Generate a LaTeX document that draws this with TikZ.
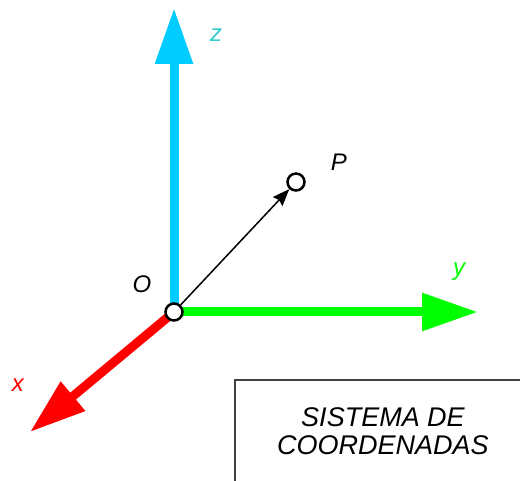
\documentclass[tikz,border=0pt]{standalone}
\usepackage{fontspec}
\setmainfont{Liberation Sans}
\usepackage{xcolor}
\usepackage{tikz}
\usetikzlibrary{arrows.meta, positioning, calc}

\definecolor{axisz}{RGB}{0,204,255}
\definecolor{labelz}{RGB}{51,204,204}
\definecolor{axisy}{RGB}{0,255,0}
\definecolor{axisx}{RGB}{255,0,0}

\begin{document}
\begin{tikzpicture}[
        x=1pt, y=-1pt,
        every node/.style={align=center},
        axis/.style={-{Triangle[length=56pt,width=36pt]}, line width=9pt},
        vec/.style={-{Stealth[length=17pt,width=13pt,inset=2pt]}, line width=1.5pt, black},
        dot/.style={
            circle, draw=black, line width=2.5pt,
            fill=white, minimum size=17pt, inner sep=0pt
        },
        lbl/.style={font=\fontsize{24pt}{26pt}\selectfont\itshape, inner sep=0pt},
        titlebox/.style={
            rectangle, draw=black!75, line width=1.5pt,
            minimum width=296pt, minimum height=102pt,
            font=\fontsize{27pt}{28pt}\selectfont\itshape
        }
    ]
    \useasboundingbox (0,0) rectangle (520,481);
    \clip (0,0) rectangle (520,481);

    \coordinate (origin) at (174,312);
    \coordinate (zend) at (174,8);
    \coordinate (yend) at (478,312);
    \coordinate (xend) at (30,432);

    \draw[axis, axisz] (origin) -- (zend);
    \draw[axis, axisy] (origin) -- (yend);
    \draw[axis, axisx] (origin) -- (xend);

    \node[dot] (o) at (origin) {};
    \node[dot] (p) at (296,182) {};
    \draw[vec] (o) -- (p);

    \node[lbl, labelz] (zlab) at (216,35) {z};
    \node[lbl, axisy] (ylab) at (459,272) {y};
    \node[lbl, axisx] (xlab) at (18,385) {x};
    \node[lbl] (olab) at (142,284) {O};
    \node[lbl] (plab) at (339,162) {P};

    \node[titlebox] (title) at (383,431) {SISTEMA DE\\COORDENADAS};

    \end{tikzpicture}
\end{document}
